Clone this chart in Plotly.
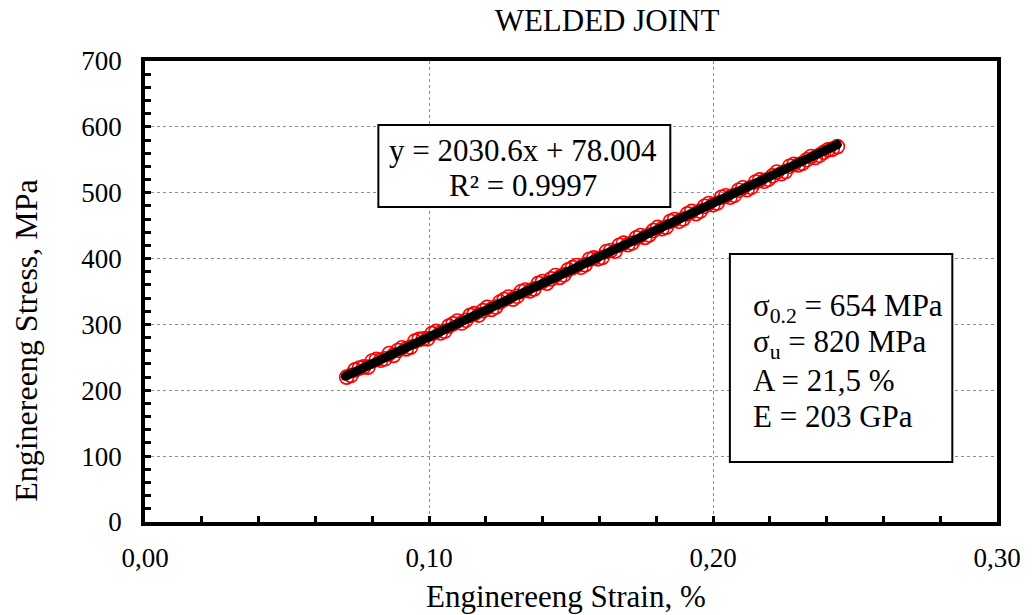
import plotly.graph_objects as go

# Elastic-range test readings (strain in %, stress in MPa)
strain = [0.0710, 0.0725, 0.0740, 0.0755, 0.0770, 0.0785, 0.0800, 0.0815, 0.0830, 0.0845,
          0.0860, 0.0875, 0.0890, 0.0905, 0.0920, 0.0935, 0.0950, 0.0965, 0.0980, 0.0995,
          0.1010, 0.1025, 0.1040, 0.1055, 0.1070, 0.1085, 0.1100, 0.1115, 0.1130, 0.1145,
          0.1160, 0.1175, 0.1190, 0.1205, 0.1220, 0.1235, 0.1250, 0.1265, 0.1280, 0.1295,
          0.1310, 0.1325, 0.1340, 0.1355, 0.1370, 0.1385, 0.1400, 0.1415, 0.1430, 0.1445,
          0.1460, 0.1475, 0.1490, 0.1505, 0.1520, 0.1535, 0.1550, 0.1565, 0.1580, 0.1595,
          0.1610, 0.1625, 0.1640, 0.1655, 0.1670, 0.1685, 0.1700, 0.1715, 0.1730, 0.1745,
          0.1760, 0.1775, 0.1790, 0.1805, 0.1820, 0.1835, 0.1850, 0.1865, 0.1880, 0.1895,
          0.1910, 0.1925, 0.1940, 0.1955, 0.1970, 0.1985, 0.2000, 0.2015, 0.2030, 0.2045,
          0.2060, 0.2075, 0.2090, 0.2105, 0.2120, 0.2135, 0.2150, 0.2165, 0.2180, 0.2195,
          0.2210, 0.2225, 0.2240, 0.2255, 0.2270, 0.2285, 0.2300, 0.2315, 0.2330, 0.2345,
          0.2360, 0.2375, 0.2390, 0.2405, 0.2420, 0.2438]
stress = [220.0, 222.6, 231.0, 233.8, 235.5, 235.1, 244.5, 246.9, 245.5, 247.8,
          255.8, 253.0, 260.5, 264.7, 262.9, 265.5, 274.6, 277.3, 278.2, 278.1,
          286.0, 289.4, 287.0, 289.6, 297.5, 300.9, 305.2, 302.1, 306.3, 313.8,
          316.4, 314.2, 320.9, 325.9, 322.8, 326.5, 334.1, 337.8, 341.6, 338.4,
          342.7, 350.0, 352.3, 350.9, 354.0, 362.4, 365.1, 362.6, 369.2, 374.3,
          371.4, 375.3, 382.9, 386.2, 389.5, 386.8, 390.8, 398.9, 401.0, 399.6,
          401.7, 410.7, 412.3, 411.2, 420.2, 423.4, 421.0, 423.6, 431.4, 435.1,
          432.2, 435.9, 442.6, 447.3, 445.3, 447.7, 456.5, 459.4, 456.6, 460.1,
          467.9, 471.6, 468.1, 472.1, 479.4, 483.6, 481.8, 484.3, 493.0, 495.4,
          493.1, 496.0, 503.7, 507.6, 504.6, 508.2, 516.3, 519.5, 517.4, 520.3,
          525.6, 531.4, 528.7, 532.1, 540.2, 543.2, 542.1, 544.6, 550.0, 555.0,
          553.4, 556.8, 561.5, 565.1, 566.2, 570.0]

# Linear fit stated on the chart
slope = 2030.6
intercept = 78.004
r2 = 0.9997
fit_x = [0.0705, 0.2438]
fit_y = [slope * x + intercept for x in fit_x]

# Mechanical properties
props = ["σ<sub>0.2</sub> = 654 MPa", "σ<sub>u</sub> = 820 MPa",
         "A = 21,5 %", "E = 203 GPa"]

x_ticks = [0.0, 0.1, 0.2, 0.3]
y_ticks = [0, 100, 200, 300, 400, 500, 600, 700]

FONT = "Liberation Serif, Times New Roman, serif"
W, H = 1033, 615
L, R, T, B = 145, 30, 61, 93
PW, PH = W - L - R, H - T - B


def px(xp):
    return (xp - L) / PW


def py(yp):
    return (H - B - yp) / PH


fig = go.Figure()
fig.add_trace(go.Scatter(
    x=strain, y=stress, mode="markers",
    marker=dict(symbol="circle-open", size=14, color="#ff0000",
                line=dict(width=1.6, color="#ff0000")),
    showlegend=False, hoverinfo="skip"))
fig.add_trace(go.Scatter(
    x=fit_x, y=fit_y, mode="lines+markers",
    line=dict(color="black", width=9),
    marker=dict(size=9, color="black"),
    showlegend=False, hoverinfo="skip"))

axis_common = dict(
    showline=True, linecolor="black", linewidth=3.5, mirror=True,
    ticks="inside", ticklen=6, tickwidth=2.5, tickcolor="black",
    showgrid=True, gridcolor="#8c8c8c", gridwidth=1, griddash="dot",
    zeroline=False,
    tickfont=dict(family=FONT, size=27, color="black"),
)

fig.update_xaxes(range=[0, 0.3], tickvals=x_ticks, tickformat=".2f",
                 ticklabelstandoff=9,
                 minor=dict(dtick=0.02, ticks="inside", ticklen=6,
                            tickwidth=2.5, tickcolor="black", showgrid=False),
                 **axis_common)
fig.update_yaxes(range=[0, 700], tickvals=y_ticks,
                 ticklabelstandoff=14,
                 minor=dict(dtick=20, ticks="inside", ticklen=6,
                            tickwidth=2.5, tickcolor="black", showgrid=False),
                 **axis_common)

shapes = [
    dict(type="rect", xref="paper", yref="paper",
         x0=px(380), x1=px(674), y0=py(207), y1=py(125),
         line=dict(color="black", width=2), fillcolor="white", layer="above"),
    dict(type="rect", xref="paper", yref="paper",
         x0=px(734), x1=px(958), y0=py(462), y1=py(254),
         line=dict(color="black", width=2), fillcolor="white", layer="above"),
]

annotations = [
    dict(text=f"y = {slope}x + {intercept:.3f}", x=px(526), y=py(150), size=31),
    dict(text=f"R² = {r2}", x=px(526), y=py(185), size=31),
    dict(text="Enginereeng Strain, %", x=px(569), y=py(596), size=31),
    dict(text="Enginereeng Stress, MPa", x=px(25), y=py(340), size=32,
         textangle=-90),
]
for a in annotations:
    size = a.pop("size")
    a.update(xref="paper", yref="paper", showarrow=False,
             xanchor="center", yanchor="middle",
             font=dict(family=FONT, size=size, color="black"))

for i, t in enumerate(props):
    annotations.append(dict(
        text=t, x=px(755), y=py(308 + 36.3 * i), xref="paper", yref="paper",
        showarrow=False, xanchor="left", yanchor="middle",
        font=dict(family=FONT, size=31, color="black")))

fig.update_layout(
    width=W, height=H,
    margin=dict(l=L, r=R, t=T, b=B),
    paper_bgcolor="white", plot_bgcolor="white",
    separators=", ",
    title=dict(text="WELDED JOINT", x=607 / W, y=1 - 20 / H,
               xref="container", yref="container",
               xanchor="center", yanchor="middle",
               font=dict(family=FONT, size=31, color="black")),
    shapes=shapes, annotations=annotations,
)

fig.write_html("out.html")
